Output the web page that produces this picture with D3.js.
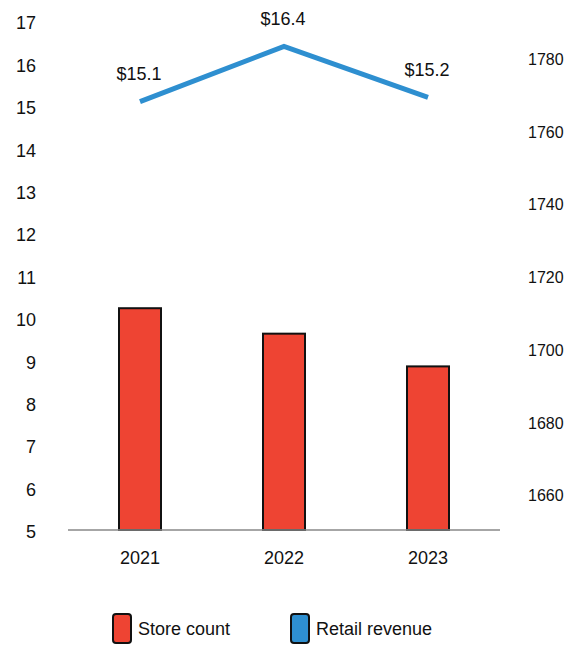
<!DOCTYPE html>
<html>
<head>
<meta charset="utf-8">
<script src="https://cdn.jsdelivr.net/npm/d3@7"></script>
<style>
  body { margin: 0; background: #fff; }
  text { font-family: "Liberation Sans", Arial, sans-serif; fill: #111; }
</style>
</head>
<body>
<div id="chart"></div>
<script>
// Chart data
const years = ["2021", "2022", "2023"];
const storeCount = [1711, 1704, 1695];
const retailRevenue = [15.1, 16.4, 15.2];
const leftTicks = [5, 6, 7, 8, 9, 10, 11, 12, 13, 14, 15, 16, 17];
const rightTicks = [1660, 1680, 1700, 1720, 1740, 1760, 1780];
const seriesNames = ["Store count", "Retail revenue"];
const seriesColors = ["#EE4433", "#2E8FD0"];

const width = 574, height = 646;
const plot = { left: 68, right: 500, top: 21, bottom: 530 };

const svg = d3.select("#chart").append("svg")
    .attr("width", width)
    .attr("height", height);

// Scales
const x = d3.scaleBand().domain(years).range([plot.left, plot.right]).padding(0);
const yLeft = d3.scaleLinear().domain([5, 17]).range([plot.bottom, plot.top]);
const yRight = d3.scaleLinear().domain([1650, 1790]).range([plot.bottom, plot.top]);
const barWidth = 42;

// Left axis (revenue)
const leftAxis = svg.append("g")
    .attr("transform", `translate(${plot.left - 32}, 0)`)
    .call(d3.axisLeft(yLeft).tickValues(leftTicks).tickSize(0).tickPadding(0));
leftAxis.select(".domain").remove();
leftAxis.selectAll("text")
    .attr("dy", "0.32em")
    .attr("y", 2)
    .style("font-size", "18px")
    .style("font-family", "Liberation Sans, Arial, sans-serif")
    .attr("fill", "#111");

// Right axis (store count)
const rightAxis = svg.append("g")
    .attr("transform", `translate(528, 0)`)
    .call(d3.axisRight(yRight).tickValues(rightTicks).tickFormat(d3.format("d")).tickSize(0).tickPadding(0));
rightAxis.select(".domain").remove();
rightAxis.selectAll("text")
    .attr("dy", "0.32em")
    .attr("y", 2)
    .style("font-size", "16px")
    .style("font-family", "Liberation Sans, Arial, sans-serif")
    .attr("fill", "#111");

// Bars
svg.selectAll(".bar")
    .data(years)
    .enter()
    .append("rect")
    .attr("class", "bar")
    .attr("x", (d) => x(d) + x.bandwidth() / 2 - barWidth / 2)
    .attr("y", (d, i) => yRight(storeCount[i]))
    .attr("width", barWidth)
    .attr("height", (d, i) => plot.bottom - yRight(storeCount[i]))
    .attr("fill", seriesColors[0])
    .attr("stroke", "#111")
    .attr("stroke-width", 2);

// Baseline
svg.append("line")
    .attr("x1", plot.left).attr("x2", plot.right)
    .attr("y1", plot.bottom).attr("y2", plot.bottom)
    .attr("stroke", "#888")
    .attr("stroke-width", 1.5);

// X labels
const xAxis = svg.append("g")
    .attr("transform", `translate(0, ${plot.bottom})`)
    .call(d3.axisBottom(x).tickSize(0).tickPadding(0));
xAxis.select(".domain").remove();
xAxis.selectAll("text")
    .attr("y", 28)
    .attr("dy", "0.32em")
    .style("font-size", "18px")
    .style("font-family", "Liberation Sans, Arial, sans-serif")
    .attr("fill", "#111");

// Revenue line
const line = d3.line()
    .x((d, i) => x(years[i]) + x.bandwidth() / 2)
    .y((d) => yLeft(d));
svg.append("path")
    .datum(retailRevenue)
    .attr("d", line)
    .attr("fill", "none")
    .attr("stroke", seriesColors[1])
    .attr("stroke-width", 5);

svg.selectAll(".rev-label")
    .data(retailRevenue)
    .enter()
    .append("text")
    .attr("class", "rev-label")
    .attr("x", (d, i) => x(years[i]) + x.bandwidth() / 2 - 1)
    .attr("y", (d) => yLeft(d) - 28)
    .attr("dy", "0.35em")
    .attr("text-anchor", "middle")
    .style("font-size", "18px")
    .text((d) => "$" + d.toFixed(1));

// Legend
const legendX = [113, 291];
const legend = svg.selectAll(".legend")
    .data(seriesNames)
    .enter()
    .append("g")
    .attr("class", "legend")
    .attr("transform", (d, i) => `translate(${legendX[i]}, 614)`);
legend.append("rect")
    .attr("width", 18)
    .attr("height", 29)
    .attr("rx", 3)
    .attr("fill", (d, i) => seriesColors[i])
    .attr("stroke", "#111")
    .attr("stroke-width", 2);
legend.append("text")
    .attr("x", 25)
    .attr("y", 15)
    .attr("dy", "0.35em")
    .style("font-size", "18px")
    .text((d) => d);
</script>
</body>
</html>
